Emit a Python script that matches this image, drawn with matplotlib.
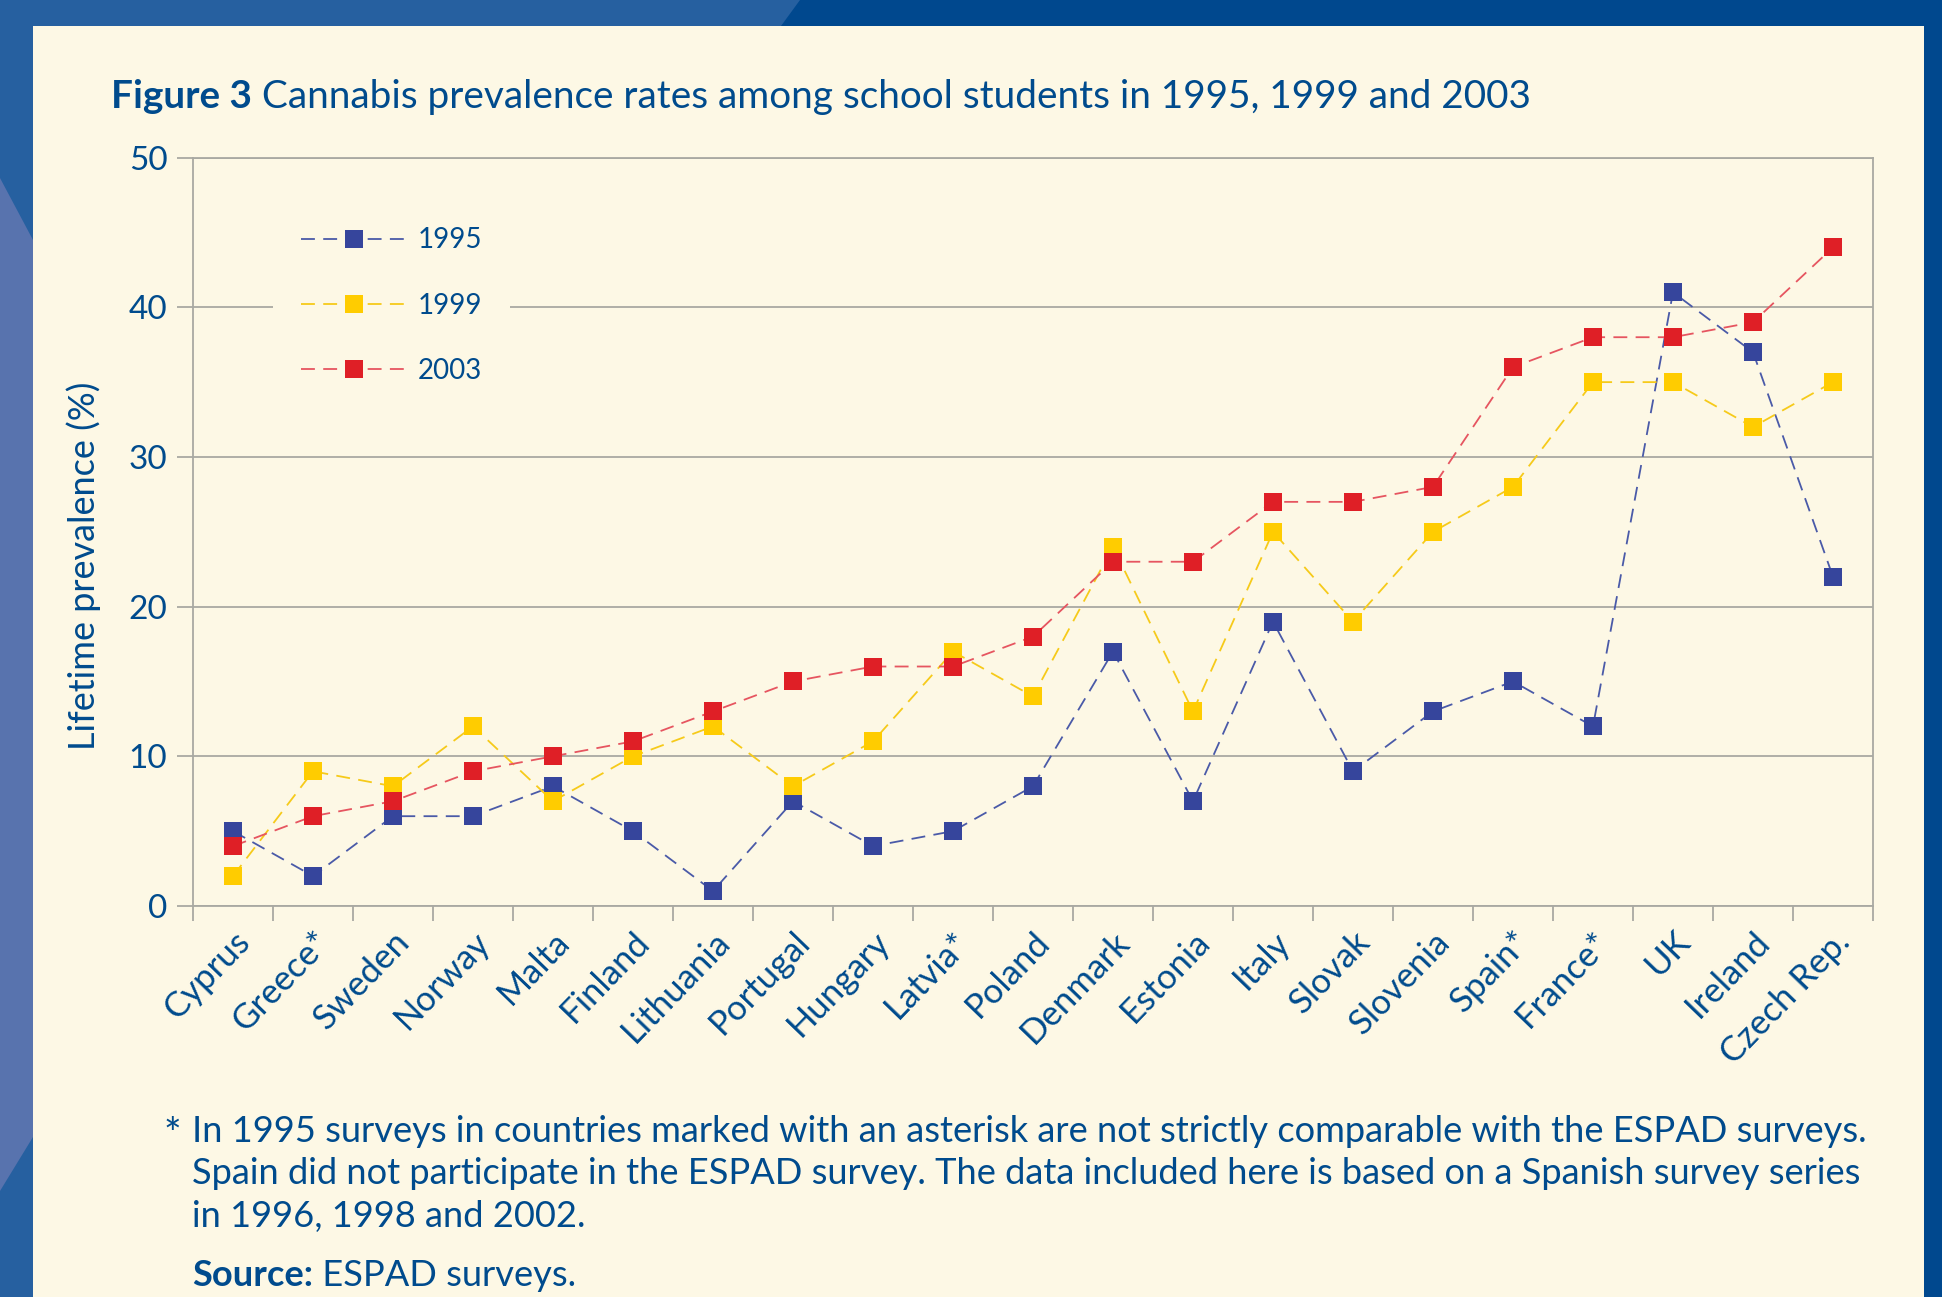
import matplotlib
matplotlib.use("Agg")
import matplotlib.pyplot as plt
from matplotlib.patches import Polygon, Rectangle
import numpy as np

# ---------------- data ----------------
countries = ["Cyprus", "Greece*", "Sweden", "Norway", "Malta", "Finland", "Lithuania",
             "Portugal", "Hungary", "Latvia*", "Poland", "Denmark", "Estonia", "Italy",
             "Slovak", "Slovenia", "Spain*", "France*", "UK", "Ireland", "Czech Rep."]
y1995 = [5, 2, 6, 6, 8, 5, 1, 7, 4, 5, 8, 17, 7, 19, 9, 13, 15, 12, 41, 37, 22]
y1999 = [2, 9, 8, 12, 7, 10, 12, 8, 11, 17, 14, 24, 13, 25, 19, 25, 28, 35, 35, 32, 35]
y2003 = [4, 6, 7, 9, 10, 11, 13, 15, 16, 16, 18, 23, 23, 27, 27, 28, 36, 38, 38, 39, 44]
series_labels = ["1995", "1999", "2003"]
yticks = [0, 10, 20, 30, 40, 50]

title_bold = "Figure 3"
title_rest = " Cannabis prevalence rates among school students in 1995, 1999 and 2003"
ylabel = "Lifetime prevalence (%)"
foot_lines = ["In 1995 surveys in countries marked with an asterisk are not strictly comparable with the ESPAD surveys.",
              "Spain did not participate in the ESPAD survey. The data included here is based on a Spanish survey series",
              "in 1996, 1998 and 2002."]
source_bold = "Source:"
source_rest = " ESPAD surveys."

# ---------------- style ----------------
W, H = 1942, 1297
DPI = 100
CREAM = "#FDF8E5"
TXT = "#004B8D"
GRID = "#A9A9A2"
FONT = "Lato"
plt.rcParams["font.family"] = [FONT, "DejaVu Sans"]
plt.rcParams["lines.scale_dashes"] = False

fig = plt.figure(figsize=(W / DPI, H / DPI), dpi=DPI, facecolor=CREAM)

def fx(px):
    return px / W

def fy(py):
    return 1 - py / H

# frame decorations
fig.patches.append(Rectangle((0, fy(26)), 1, 26 / H, transform=fig.transFigure,
                             facecolor="#00488E", edgecolor="none", zorder=0))
fig.patches.append(Polygon([(0, 1), (fx(800), 1), (fx(781), fy(26)), (0, fy(26))],
                           closed=True, transform=fig.transFigure,
                           facecolor="#2660A0", edgecolor="none", zorder=0))
fig.patches.append(Rectangle((0, 0), fx(33), 1, transform=fig.transFigure,
                             facecolor="#2660A0", edgecolor="none", zorder=0))
fig.patches.append(Polygon([(0, fy(178)), (fx(33), fy(240)), (fx(33), fy(1137)), (0, fy(1191))],
                           closed=True, transform=fig.transFigure,
                           facecolor="#5873AE", edgecolor="none", zorder=0))
fig.patches.append(Rectangle((fx(1924), 0), 1 - fx(1924), 1, transform=fig.transFigure,
                             facecolor="#00488E", edgecolor="none", zorder=0))

# axes
ax_l, ax_r, ax_t, ax_b = 193, 1873, 157.6, 906
ax = fig.add_axes([fx(ax_l), fy(ax_b), fx(ax_r - ax_l), (ax_b - ax_t) / H])
ax.set_facecolor(CREAM)
x = np.arange(len(countries))
ax.set_xlim(-0.5, len(countries) - 0.5)
ax.set_ylim(0, 50)

for s in ["left", "top", "right", "bottom"]:
    ax.spines[s].set_color(GRID)
    ax.spines[s].set_linewidth(1.3)
ax.set_yticks(yticks)
ax.yaxis.grid(True, color=GRID, linewidth=1.3)
ax.set_axisbelow(True)
ax.tick_params(axis="y", length=11.5, width=1.3, color=GRID, pad=7,
               labelsize=24, labelcolor=TXT)
ax.set_xticks(x)
ax.set_xticklabels(countries, rotation=46, ha="right", va="top",
                   rotation_mode="anchor", fontsize=25, color=TXT)
ax.tick_params(axis="x", which="major", length=0, pad=14)
ax.set_xticks(np.arange(-0.5, len(countries), 1.0), minor=True)
ax.tick_params(axis="x", which="minor", length=11, width=1.3, color=GRID)

styles = [
    dict(color="#4A5AA8", mfc="#36459C"),
    dict(color="#F6CA1A", mfc="#FFCC00"),
    dict(color="#E65560", mfc="#DF1F26"),
]
handles = []
for vals, lab, st in zip([y1995, y1999, y2003], series_labels, styles):
    h, = ax.plot(x, vals, color=st["color"], linewidth=1.3, dashes=(10, 6),
                 marker="s", markersize=13, markerfacecolor=st["mfc"],
                 markeredgewidth=0, label=lab, clip_on=False, zorder=3)
    handles.append(h)

leg = ax.legend(handles=handles, loc="upper left", bbox_to_anchor=(0.0476, 0.944),
                borderaxespad=0, frameon=True, fancybox=False, facecolor=CREAM,
                edgecolor=CREAM, framealpha=1, fontsize=20, handlelength=3.8,
                handletextpad=0.4, labelspacing=1.42, borderpad=1.0)
for t in leg.get_texts():
    t.set_color(TXT)
leg.get_frame().set_linewidth(0)

# y label
fig.text(fx(84), fy(566), ylabel, rotation=90, ha="center", va="center",
         fontsize=26, color=TXT)

renderer = fig.canvas.get_renderer()

def fit(txt, target_px):
    bb = txt.get_window_extent(renderer=renderer)
    txt.set_fontsize(txt.get_fontsize() * target_px / bb.width)

# title
tb = fig.text(fx(111), fy(97), title_bold, ha="left", va="center", fontsize=24,
              fontweight="bold", color=TXT)
tr = fig.text(0, fy(97), title_rest, ha="left", va="center", fontsize=24, color=TXT)
w1 = tb.get_window_extent(renderer=renderer).width
w2 = tr.get_window_extent(renderer=renderer).width
scale = 1422 / (w1 + w2)
tb.set_fontsize(24 * scale)
tr.set_fontsize(24 * scale)
w1 = tb.get_window_extent(renderer=renderer).width
tr.set_x(fx(111 + w1))

# footnote
fig.text(fx(163), fy(1136), "*", ha="left", va="center", fontsize=30, color=TXT)
foot_y = [1131, 1174, 1217]
ft = []
for line, yy in zip(foot_lines, foot_y):
    ft.append(fig.text(fx(192), fy(yy), line, ha="left", va="center", fontsize=22, color=TXT))
fit(ft[0], 1672)
fs = ft[0].get_fontsize()
for t in ft[1:]:
    t.set_fontsize(fs)

sb = fig.text(fx(192), fy(1276), source_bold, ha="left", va="center", fontsize=fs,
              fontweight="bold", color=TXT)
wsb = sb.get_window_extent(renderer=renderer).width
fig.text(fx(192 + wsb), fy(1276), source_rest, ha="left", va="center", fontsize=fs, color=TXT)

fig.savefig("out.png", dpi=DPI, facecolor=CREAM)
